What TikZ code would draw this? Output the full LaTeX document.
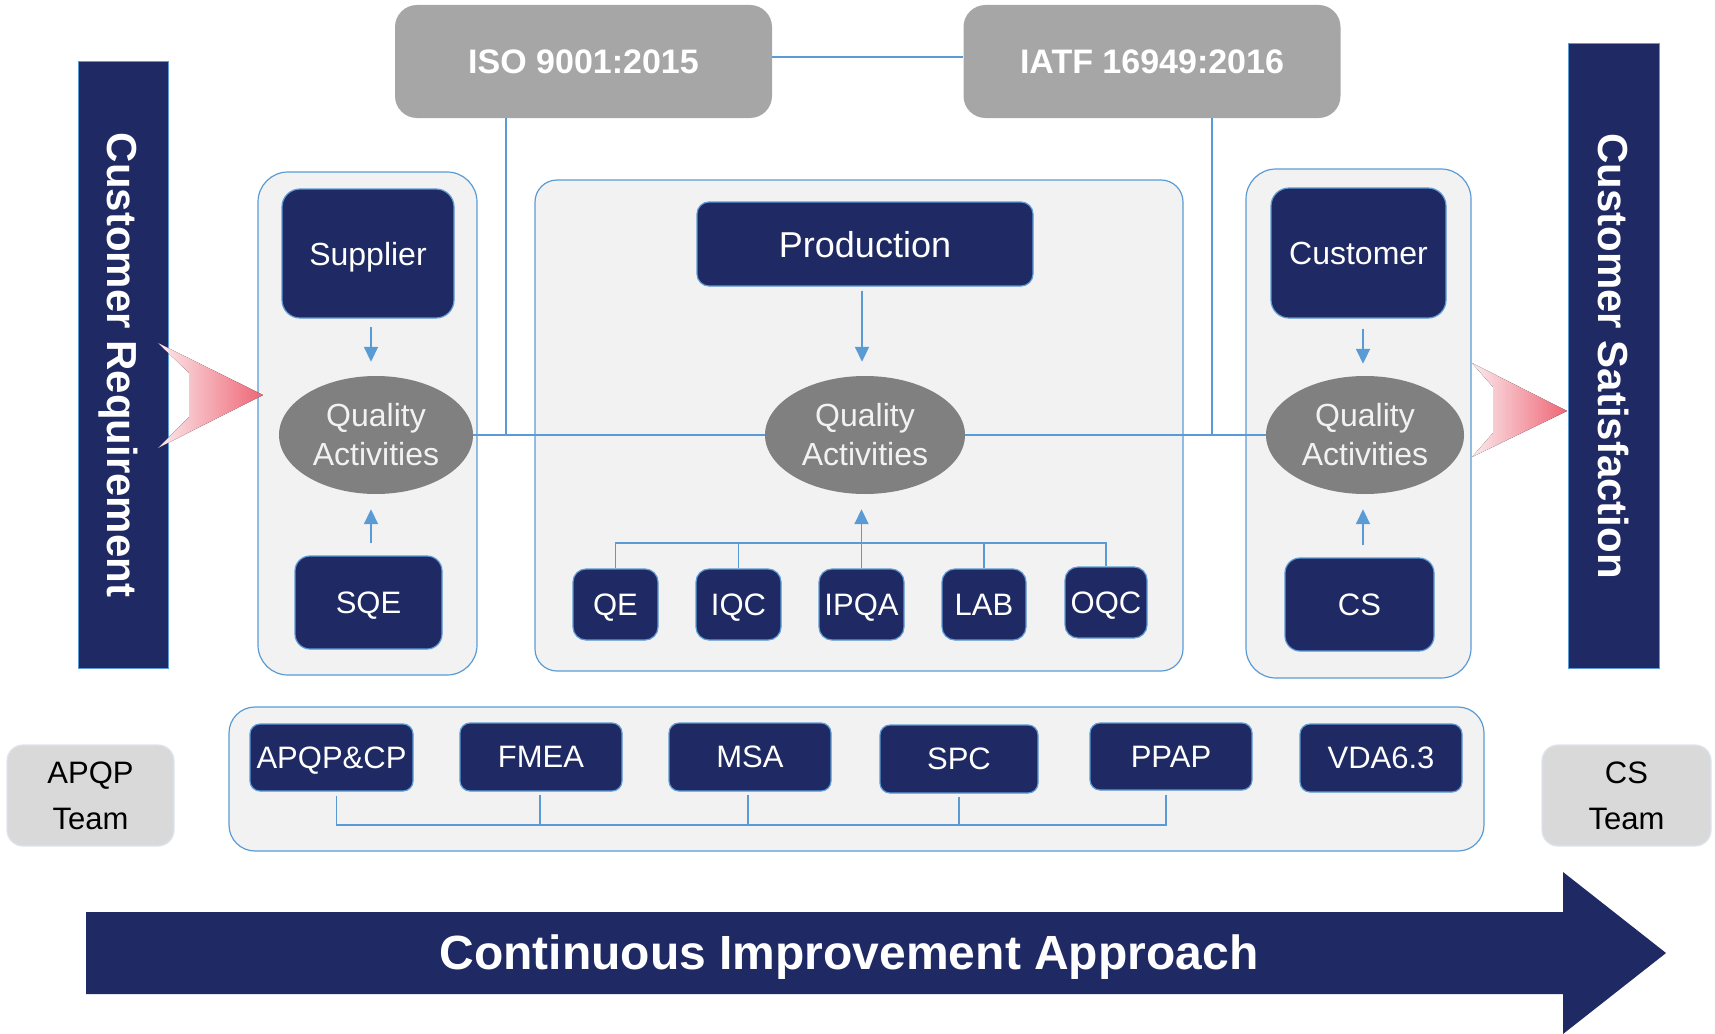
\documentclass[tikz,border=0pt]{standalone}
\usepackage{fontspec}
\setmainfont{Liberation Sans}
\usetikzlibrary{shapes.geometric,arrows.meta,calc}
\definecolor{navy}{RGB}{31,41,99}
\definecolor{lblue}{RGB}{91,155,213}
\definecolor{panelfill}{RGB}{242,242,242}
\definecolor{stdgrey}{RGB}{166,166,166}
\definecolor{ellgrey}{RGB}{128,128,128}
\definecolor{teamgrey}{RGB}{217,217,217}
\definecolor{teamedge}{RGB}{222,228,236}
\definecolor{pinkL}{RGB}{251,234,237}
\definecolor{pinkR}{RGB}{238,102,117}
\begin{document}
\begin{tikzpicture}[x=1pt,y=-1pt,
  navybox/.style={draw=lblue, line width=1.2pt, fill=navy, text=white, rounded corners=#1, inner sep=0pt, text depth=0pt},
  navybox/.default=13pt,
  panelbox/.style={draw=lblue, line width=1.2pt, fill=panelfill, rounded corners=#1, inner sep=0pt},
  panelbox/.default=30pt,
  stdbox/.style={fill=stdgrey, text=white, rounded corners=22pt, inner sep=0pt, text depth=0pt,
    minimum width=377pt, minimum height=113pt, font=\fontsize{34}{40}\selectfont\bfseries},
  qell/.style={ellipse, fill=ellgrey, text=panelfill, inner sep=0pt, align=center,
    minimum height=118pt, font=\fontsize{32}{39}\selectfont},
  teambox/.style={fill=teamgrey, draw=teamedge, line width=1.2pt, rounded corners=16pt, inner sep=0pt,
    minimum height=101pt, align=center, font=\fontsize{31}{46}\selectfont},
  barbox/.style={fill=navy, draw=lblue, line width=1pt, rotate=-90, text=white, inner sep=0pt,
    text depth=0pt, font=\fontsize{42}{48}\selectfont\bfseries},
  fa/.style={font=\fontsize{31}{37}\selectfont},
  fb/.style={font=\fontsize{32}{38}\selectfont},
  conn/.style={draw=lblue, line width=1.3pt},
  arr/.style={draw=lblue, line width=1.8pt, -{Triangle[length=15pt,width=14pt]}},
]
\useasboundingbox (0,0) rectangle (1715,1033);

% side bars
\node[barbox, minimum width=606pt, minimum height=90pt] (lbar) at (123,365) {Customer Requirement};
\node[barbox, minimum width=624pt, minimum height=91pt] (rbar) at (1613.5,356) {Customer Satisfaction};

% standards
\node[stdbox] (iso) at (583.5,61.5) {ISO 9001:2015};
\node[stdbox] (iatf) at (1152,61.5) {IATF 16949:2016};

% panels
\node[panelbox, minimum width=219pt, minimum height=503pt] (col1) at (367.5,423.5) {};
\node[panelbox=22pt, minimum width=648pt, minimum height=491pt] (col2) at (859,425.5) {};
\node[panelbox, minimum width=225pt, minimum height=509pt] (col3) at (1358.5,423.5) {};
\node[panelbox=26pt, minimum width=1255pt, minimum height=144pt] (bot) at (856.5,779) {};

% pink chevrons
\fill[left color=pinkL, right color=pinkR] (158,343) -- (263,395) -- (158,448) -- (189,417) -- (189,373) -- cycle;
\fill[left color=pinkL, right color=pinkR] (1472,363) -- (1567,411) -- (1472,457) -- (1493,433) -- (1493,387) -- cycle;

% top boxes
\node[navybox=18pt, fb, minimum width=172pt, minimum height=129pt] (sup) at (368,253.5) {Supplier};
\node[navybox=12pt, font=\fontsize{36}{42}\selectfont, minimum width=336pt, minimum height=84pt] (prod) at (865,244) {Production};
\node[navybox=18pt, fb, minimum width=175pt, minimum height=130pt] (cust) at (1358.5,253) {Customer};

% quality activities
\node[qell, minimum width=194pt] (qa1) at (376,435) {Quality\\Activities};
\node[qell, minimum width=200pt] (qa2) at (865,435) {Quality\\Activities};
\node[qell, minimum width=198pt] (qa3) at (1365,435) {Quality\\Activities};

% lower boxes
\node[navybox=15pt, fa, minimum width=147pt, minimum height=93pt] (sqe) at (368.5,602.5) {SQE};
\node[navybox=15pt, fa, minimum width=149pt, minimum height=93pt] (cs) at (1359.5,604.5) {CS};
\node[navybox, fa, minimum width=85pt, minimum height=71pt] (qe) at (615.5,604.5) {QE};
\node[navybox, fa, minimum width=85pt, minimum height=71pt] (iqc) at (738.5,604.5) {IQC};
\node[navybox, fa, minimum width=85pt, minimum height=71pt] (ipqa) at (861.5,604.5) {IPQA};
\node[navybox, fa, minimum width=84pt, minimum height=71pt] (lab) at (984,604.5) {LAB};
\node[navybox, fa, minimum width=82pt, minimum height=71pt] (oqc) at (1106,602.5) {OQC};

% tools
\node[navybox=10pt, fa, minimum width=163pt, minimum height=67pt] (apqp) at (331.5,757.5) {APQP\&CP};
\node[navybox=10pt, fa, minimum width=162pt, minimum height=68pt] (fmea) at (541,757) {FMEA};
\node[navybox=10pt, fa, minimum width=162pt, minimum height=68pt] (msa) at (750,757) {MSA};
\node[navybox=10pt, fa, minimum width=158pt, minimum height=68pt] (spc) at (959,759) {SPC};
\node[navybox=10pt, fa, minimum width=162pt, minimum height=67pt] (ppap) at (1171,756.5) {PPAP};
\node[navybox=10pt, fa, minimum width=162pt, minimum height=68pt] (vda) at (1381,758) {VDA6.3};

% teams
\node[teambox, minimum width=167pt] (apqpteam) at (90.5,795.5) {APQP\\Team};
\node[teambox, minimum width=169pt] (csteam) at (1626.5,795.5) {CS\\Team};

% connectors
\coordinate (isoj) at (506,435);
\coordinate (iatfj) at (1212,435);
\draw[conn] ([yshift=4.5pt]iso.east) -- ([yshift=4.5pt]iatf.west);
\draw[conn] (iso.south -| isoj) -- (isoj);
\draw[conn] (iatf.south -| iatfj) -- (iatfj);
\draw[conn] (qa1.east) -- (qa2.west);
\draw[conn] (qa2.east) -- (qa3.west);

\coordinate (tb) at (0,543);
\draw[conn] (qe.north) -- (qe.north |- tb) -- (oqc.north |- tb) -- (oqc.north);
\draw[conn] (iqc.north) -- (iqc.north |- tb);
\draw[conn] (ipqa.north) -- (ipqa.north |- tb);
\draw[conn] (lab.north) -- (lab.north |- tb);
\draw[arr] (ipqa.north |- tb) -- ($(ipqa.north |- qa2.south)+(0,15)$);

\draw[arr] ($(sup.south)+(3,8)$) -- ($(sup.south |- qa1.north)+(3,-14)$);
\draw[arr] ($(sqe.north)+(2.5,-12)$) -- ($(sqe.north |- qa1.south)+(2.5,15)$);
\draw[arr] ($(prod.south)+(-3,4)$) -- ($(prod.south |- qa2.north)+(-3,-14)$);
\draw[arr] ($(cust.south)+(4.5,10)$) -- ($(cust.south |- qa3.north)+(4.5,-12)$);
\draw[arr] ($(cs.north)+(3.5,-12)$) -- ($(cs.north |- qa3.south)+(3.5,15)$);

\coordinate (bb) at (0,825);
\draw[conn] ($(apqp.south)+(5,4)$) -- ($(apqp.south |- bb)+(5,0)$) -- ($(ppap.south |- bb)+(-5,0)$) -- ($(ppap.south)+(-5,4)$);
\draw[conn] ($(fmea.south)+(-1,3)$) -- ($(fmea.south |- bb)+(-1,0)$);
\draw[conn] ($(msa.south)+(-2,3)$) -- ($(msa.south |- bb)+(-2,0)$);
\draw[conn] ($(spc.south)+(0,3)$) -- (spc.south |- bb);

% big arrow
\fill[navy] (86,912) -- (1563,912) -- (1563,872) -- (1666,953) -- (1563,1034) -- (1563,994) -- (86,994) -- cycle;
\node[text=white, text depth=0pt, font=\fontsize{48}{52}\selectfont\bfseries] (cia) at (849,952) {Continuous Improvement Approach};
\end{tikzpicture}
\end{document}
